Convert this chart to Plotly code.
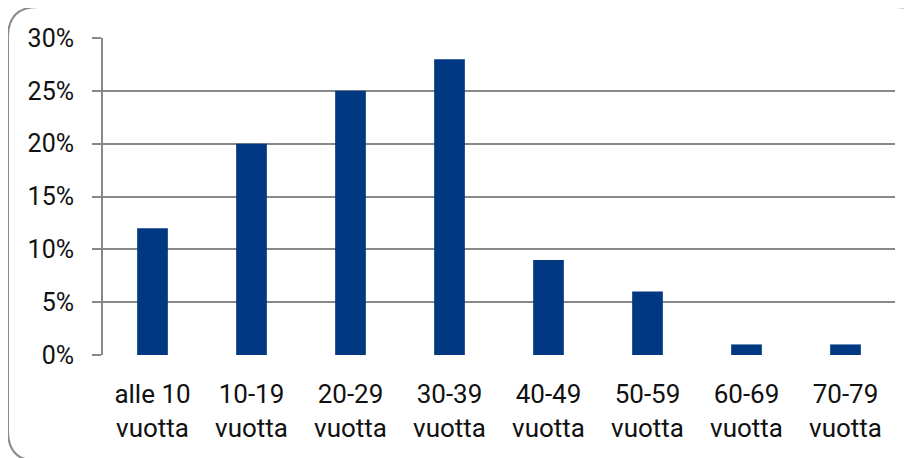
import plotly.graph_objects as go

categories = ["alle 10<br>vuotta", "10-19<br>vuotta", "20-29<br>vuotta", "30-39<br>vuotta",
              "40-49<br>vuotta", "50-59<br>vuotta", "60-69<br>vuotta", "70-79<br>vuotta"]
shares = [0.12, 0.20, 0.25, 0.28, 0.09, 0.06, 0.01, 0.01]
y_ticks = [0, 0.05, 0.10, 0.15, 0.20, 0.25, 0.30]
y_tick_labels = ["0%", "5%", "10%", "15%", "20%", "25%", "30%"]

OFF = 8  # page body offset
W, H = 912, 458
L, R, T, B = 103 - OFF, 17 + OFF, 38 - OFF, 103 + OFF
pw, ph = W - L - R, H - T - B

def px(x):
    return (x - OFF - L) / pw

def py(y):
    return (H - B - (y - OFF)) / ph

# rounded frame (target pixel coords converted to paper)
x0, x1, y0, y1, r = 8, 927, 7, 461, 30
path = (f"M {px(x0+r)},{py(y0)} L {px(x1-r)},{py(y0)} Q {px(x1)},{py(y0)} {px(x1)},{py(y0+r)} "
        f"L {px(x1)},{py(y1-r)} Q {px(x1)},{py(y1)} {px(x1-r)},{py(y1)} "
        f"L {px(x0+r)},{py(y1)} Q {px(x0)},{py(y1)} {px(x0)},{py(y1-r)} "
        f"L {px(x0)},{py(y0+r)} Q {px(x0)},{py(y0)} {px(x0+r)},{py(y0)} Z")

fig = go.Figure(go.Bar(x=categories, y=shares, marker=dict(color="#003882", line=dict(width=0)),
                       width=0.31))

font = dict(family="Roboto", size=25, color="#111111")
xfont = dict(family="Roboto", size=26, color="#111111")
grid = "#888888"

fig.update_layout(
    width=W, height=H, margin=dict(l=L, r=R, t=T, b=B),
    paper_bgcolor="white", plot_bgcolor="white", showlegend=False,
    font=font,
    shapes=[dict(type="path", path=path, xref="paper", yref="paper",
                 line=dict(color="#8c8c8c", width=2), layer="below")],
    xaxis=dict(showgrid=False, showline=False, ticks="", tickfont=xfont,
               ticklabelstandoff=21, zeroline=False),
    yaxis=dict(range=[0, 0.30], tickvals=y_ticks, ticktext=y_tick_labels,
               showgrid=True, gridcolor=grid, gridwidth=2,
               showline=True, linecolor=grid, linewidth=2,
               ticks="outside", ticklen=9, tickcolor=grid, tickwidth=2,
               tickfont=font, ticklabelstandoff=13, zeroline=False),
)

fig.write_html("out.html")
